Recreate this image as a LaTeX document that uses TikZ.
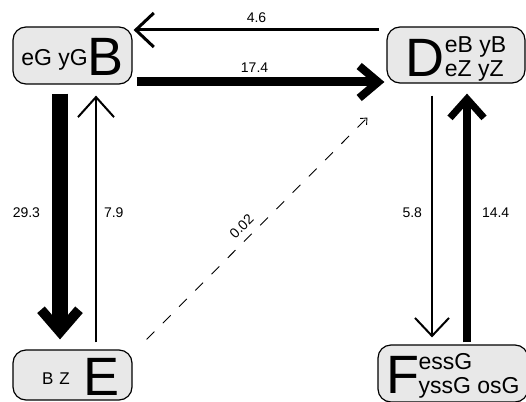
\documentclass[tikz,border=0pt]{standalone}
\usepackage{fontspec}
\setmainfont{Liberation Sans}
\usetikzlibrary{arrows.meta}
\definecolor{boxgray}{RGB}{232,232,232}
\newcommand{\poolname}[1]{{\fontsize{54}{54}\selectfont #1}}
\newcommand{\poolsub}{\fontsize{23}{24}\selectfont}
\tikzset{
  pool/.style={draw=black,line width=1.2pt,fill=boxgray,rounded corners=13pt,
    inner sep=0pt,text height=40pt,text depth=0pt},
  rate/.style={font=\fontsize{14}{14}\selectfont,inner sep=2pt},
}

\begin{document}
\begin{tikzpicture}[x=1pt,y=-1pt]
            \useasboundingbox (0,0) rectangle (526,401);

            \node[pool,minimum width=119pt,minimum height=57pt] (B) at (72.5,55.5)
                {\raisebox{10pt}{\poolsub eG yG}\poolname{B}};
            \node[pool,minimum width=138pt,minimum height=56pt,text height=44pt] (D) at (456,55)
                {\poolname{D}{\poolsub\begin{tabular}[b]{@{}l@{}}eB yB\\eZ yZ\end{tabular}}\hspace{20pt}};
            \node[pool,minimum width=119pt,minimum height=50pt] (E) at (72.5,375)
                {\hspace{17pt}\raisebox{11pt}{\fontsize{17}{17}\selectfont B\hspace{6pt}Z}\hspace{14pt}\poolname{E}};
            \node[pool,minimum width=150pt,minimum height=57pt] (F) at (453,373.5)
                {\poolname{F}\hspace{-1pt}{\poolsub\begin{tabular}[b]{@{}l@{}}essG\\yssG osG\end{tabular}}};

            % fluxes
            \draw[line width=3pt,-{Straight Barb[sharp,length=18pt,width=34pt]}]
                ([shift={(-7,-25)}]D.west) -- node[rate,above=4pt]{4.6} ([shift={(1,-25.5)}]B.east);
            \draw[line width=9pt,-{Straight Barb[sharp,length=19pt,width=32pt,line width=8pt]}]
                ([shift={(4,26.5)}]B.east) -- node[rate,above=3pt,pos=0.476]{17.4} ([shift={(-2,27)}]D.west);
            \draw[line width=16pt,-{Straight Barb[sharp,length=22pt,width=38pt,line width=10pt]}]
                ([shift={(-12.5,9)}]B.south) -- node[rate,left=10pt,pos=0.486]{29.3} ([shift={(-12.5,-10)}]E.north);
            \draw[line width=2pt,-{Straight Barb[sharp,length=20pt,width=36pt]}]
                ([shift={(23.5,-7)}]E.north) -- node[rate,right=5pt,pos=0.524]{7.9} ([shift={(23.5,11)}]B.south);
            \draw[line width=2pt,-{Straight Barb[sharp,length=18pt,width=34pt]}]
                ([shift={(-24,12)}]D.south) -- node[rate,left=7pt,pos=0.486]{5.8} ([shift={(-21,-7)}]F.north);
            \draw[line width=8pt,-{Straight Barb[sharp,length=19pt,width=34pt,line width=7pt]}]
                ([shift={(14,-2)}]F.north) -- node[rate,right=9pt,pos=0.52]{14.4} ([shift={(11,10)}]D.south);
            \draw[line width=0.9pt,dash pattern=on 11pt off 12pt,-{Straight Barb[length=5pt,width=9pt]}]
                ([shift={(14,-10)}]E.north east) -- node[rate,sloped,above=5pt,pos=0.47]{0.02} ([shift={(-19,34)}]D.south west);
        \end{tikzpicture}
\end{document}
